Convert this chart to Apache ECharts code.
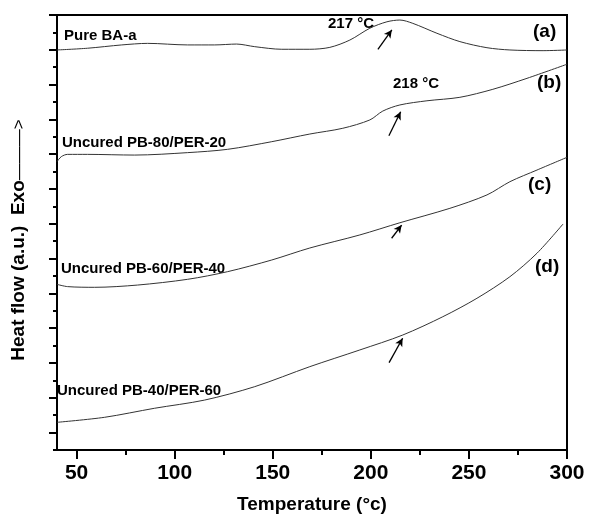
<!DOCTYPE html>
<html>
<head>
<meta charset="utf-8">
<script src="https://cdn.jsdelivr.net/npm/echarts@6/dist/echarts.min.js"></script>
<style>
  html, body { margin: 0; padding: 0; background: #fff; }
  #chart { width: 589px; height: 519px; }
</style>
</head>
<body>
<div id="chart"></div>
<script>
// temperature (°C) / heat flow (a.u.)
const tempA = [40, 55.6, 73, 86.2, 106.6, 120.4, 131.6, 140.8, 154.6, 168.9, 179.1, 189.3, 199.5, 208.2, 214.8, 221.4, 233.7, 245.4, 259.2, 270.9, 287.8, 300]
const heatA = [22.99, 23.09, 23.28, 23.37, 23.28, 23.28, 23.33, 23.18, 23.03, 23.03, 23.14, 23.56, 24.24, 24.61, 24.71, 24.52, 23.95, 23.47, 23.12, 22.99, 22.95, 22.99]

const tempB = [40, 42.2, 45.4, 55.6, 79.6, 106.6, 127, 149.5, 168.9, 185.7, 199.5, 206.1, 214.8, 228.6, 245.4, 262.2, 279.6, 300]
const heatB = [16.57, 16.86, 16.99, 16.99, 16.95, 17.09, 17.28, 17.72, 18.16, 18.49, 18.97, 19.48, 19.83, 20.07, 20.27, 20.73, 21.36, 22.17]

const tempC = [40, 45.4, 59.2, 81.1, 106.6, 127, 149.5, 168.9, 194.4, 214.8, 240.3, 259.2, 270.9, 284.7, 300]
const heatC = [9.52, 9.39, 9.35, 9.48, 9.81, 10.25, 10.92, 11.61, 12.36, 13.06, 13.89, 14.66, 15.42, 16.09, 16.82]

const tempD = [40, 64.3, 89.8, 115.3, 140.8, 168.9, 194.4, 216.3, 236.7, 254.1, 270.9, 284.7, 298]
const heatD = [1.59, 1.88, 2.4, 2.87, 3.64, 4.79, 5.75, 6.61, 7.66, 8.72, 9.96, 11.31, 12.99]

// arrows pointing at the cure onset: [tailT, tailH, headT, headH]
const arrows = [
  [203.6, 23.03, 210.7, 24.14],
  [209.2, 18.06, 215.2, 19.44],
  [210.6, 12.17, 215.7, 12.93],
  [209.3, 5.02, 216.2, 6.42],
]

const xTickLabels = [50, 100, 150, 200, 250, 300]
const xMinorTicks = [75, 125, 175, 225, 275]
const yMajorTicks = [1, 3, 5, 7, 9, 11, 13, 15, 17, 19, 21, 23, 25]

const FONT = '"Liberation Sans", Arial, sans-serif'

const zip = (xs, ys) => xs.map((x, i) => [x, ys[i]])

function curve(name, xs, ys, arrow) {
  return {
    name,
    type: 'line',
    data: zip(xs, ys),
    showSymbol: false,
    smooth: 0.3,
    lineStyle: { color: '#333', width: 1 },
    silent: true,
    markLine: {
      silent: true,
      symbol: ['none', 'arrow'],
      symbolSize: [6, 8],
      label: { show: false },
      lineStyle: { color: '#000', width: 1.3, type: 'solid' },
      data: [[{ coord: [arrow[0], arrow[1]] }, { coord: [arrow[2], arrow[3]] }]],
    },
  }
}

function label(text, left, y, size) {
  return {
    type: 'text',
    left,
    top: y - size * 0.6,
    style: { text, fontFamily: FONT, fontWeight: 'bold', fontSize: size, fill: '#000' },
  }
}

const chart = echarts.init(document.getElementById('chart'))

chart.setOption({
  animation: false,
  grid: { left: 57, right: 22, top: 15, bottom: 69, show: true, borderColor: '#000', borderWidth: 2 },
  xAxis: [
    {
      type: 'value', min: 40, max: 300,
      name: 'Temperature (°c)', nameLocation: 'middle', nameGap: 45,
      nameTextStyle: { fontFamily: FONT, fontWeight: 'bold', fontSize: 19, color: '#000' },
      axisLine: { lineStyle: { color: '#000', width: 2 } },
      axisTick: { customValues: xTickLabels, length: 9, lineStyle: { color: '#000', width: 2 } },
      axisLabel: { customValues: xTickLabels, margin: 13, fontFamily: FONT, fontWeight: 'bold', fontSize: 21, color: '#000' },
      splitLine: { show: false },
    },
    {
      type: 'value', min: 40, max: 300, position: 'bottom',
      axisLine: { show: false },
      axisTick: { customValues: xMinorTicks, length: 5, lineStyle: { color: '#000', width: 2 } },
      axisLabel: { show: false },
      splitLine: { show: false },
    },
  ],
  yAxis: [
    {
      type: 'value', min: 0, max: 25, interval: 1,
      axisLine: { show: true, lineStyle: { color: '#000', width: 2 } },
      axisTick: { show: true, length: 4, lineStyle: { color: '#000', width: 2 } },
      axisLabel: { show: false },
      splitLine: { show: false },
    },
    {
      type: 'value', min: 0, max: 25, position: 'left',
      axisLine: { show: false },
      axisTick: { show: true, customValues: yMajorTicks, length: 8, lineStyle: { color: '#000', width: 2 } },
      axisLabel: { show: false },
      splitLine: { show: false },
    },
  ],
  series: [
    curve('Pure BA-a', tempA, heatA, arrows[0]),
    curve('Uncured PB-80/PER-20', tempB, heatB, arrows[1]),
    curve('Uncured PB-60/PER-40', tempC, heatC, arrows[2]),
    curve('Uncured PB-40/PER-60', tempD, heatD, arrows[3]),
  ],
  graphic: [
    {
      type: 'text',
      x: 19, y: 240, rotation: Math.PI / 2,
      style: {
        text: '{b|Heat flow (a.u.)  Exo}{t|———>}',
        align: 'center', verticalAlign: 'middle',
        rich: {
          b: { fontFamily: FONT, fontWeight: 'bold', fontSize: 19, fill: '#000' },
          t: { fontFamily: FONT, fontWeight: 'normal', fontSize: 17, fill: '#000' },
        },
      },
    },
    label('Pure BA-a', 64, 37, 15),
    label('217 °C', 328, 25, 15),
    label('(a)', 533, 34, 19),
    label('Uncured PB-80/PER-20', 62, 144, 15),
    label('218 °C', 393, 85, 15),
    label('(b)', 537, 85, 19),
    label('Uncured PB-60/PER-40', 61, 270, 15),
    label('(c)', 528, 187, 19),
    label('Uncured PB-40/PER-60', 57, 392, 15),
    label('(d)', 535, 269, 19),
  ],
})
</script>
</body>
</html>
